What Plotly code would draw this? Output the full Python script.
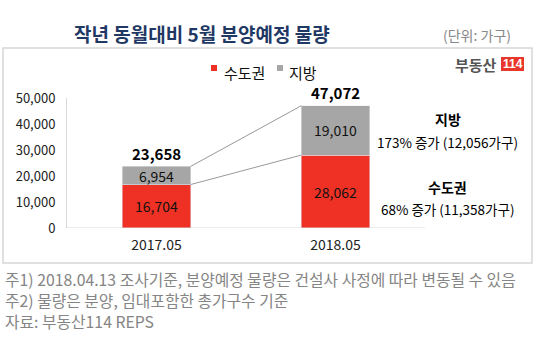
import plotly.graph_objects as go

categories = ["2017.05", "2018.05"]
metro = [16704, 28062]
local = [6954, 19010]
series_names = ["수도권", "지방"]
notes_right = [("지방", "173% 증가 (12,056가구)"), ("수도권", "68% 증가 (11,358가구)")]
footnotes = [
    "주1) 2018.04.13 조사기준, 분양예정 물량은 건설사 사정에 따라 변동될 수 있음",
    "주2) 물량은 분양, 임대포함한 총가구수 기준",
    "자료: 부동산114 REPS",
]
title = "작년 동월대비 5월 분양예정 물량"
unit = "(단위: 가구)"

RED = "#EE3124"
GRAY = "#A6A6A6"
FONT = "Noto Sans CJK KR"
W, H = 537, 349
L, R, T, B = 67, 112, 98, 121
pw, ph = W - L - R, H - T - B

def px(x):
    return (x - L) / pw

def py(y):
    return (H - B - y) / ph

bw = 0.38
xs = list(range(len(categories)))
colors = [RED, GRAY]

fig = go.Figure()
for name, vals, col in zip(series_names, [metro, local], colors):
    fig.add_bar(x=xs, y=vals, name=name, marker_color=col, width=bw,
                text=[f"{v:,}" for v in vals], textposition="inside", insidetextanchor="middle",
                constraintext="none", textfont=dict(size=14, color="#111"), cliponaxis=False,
                showlegend=False)

totals = [a + b for a, b in zip(metro, local)]
ann = []
for i, t in enumerate(totals):
    ann.append(dict(x=i, y=t, xref="x", yref="y", text=f"<b>{t:,}</b>", showarrow=False,
                    yshift=13, font=dict(size=15, color="#000")))

shapes = []
# connectors
for series in (totals, metro):
    shapes.append(dict(type="line", xref="x", yref="y",
                       x0=xs[0] + bw / 2, y0=series[0], x1=xs[1] - bw / 2, y1=series[1],
                       line=dict(color="#999", width=1)))

# outer box
shapes.append(dict(type="rect", xref="paper", yref="paper", x0=px(3), x1=px(532), y0=py(48), y1=py(263),
                   line=dict(color="#d6d6d6", width=1.5), layer="below"))
# x axis baseline extension
shapes.append(dict(type="line", xref="paper", yref="y", x0=0, x1=1, y0=0, y1=0,
                   line=dict(color="#d9d9d9", width=1)))

# custom legend
leg_sq = [211, 277]
leg_tx = [222, 287]
for name, col, sx, tx in zip(series_names, colors, leg_sq, leg_tx):
    shapes.append(dict(type="rect", xref="paper", yref="paper", x0=px(sx), x1=px(sx + 6),
                       y0=py(65), y1=py(71), fillcolor=col, line=dict(width=0)))
    ann.append(dict(x=px(tx), y=py(72), xref="paper", yref="paper", xanchor="left", yanchor="middle",
                    text=name, showarrow=False, font=dict(size=15, color="#111")))

# logo
shapes.append(dict(type="rect", xref="paper", yref="paper", x0=px(501), x1=px(524), y0=py(57), y1=py(71),
                   fillcolor="#E8362A", line=dict(width=0)))
ann.append(dict(x=px(499), y=py(64), xref="paper", yref="paper", xanchor="right", yanchor="middle",
                text="<b>부동산</b>", showarrow=False, font=dict(size=15, color="#555", family=FONT)))
ann.append(dict(x=px(512.5), y=py(64), xref="paper", yref="paper", xanchor="center", yanchor="middle",
                text="<b>114</b>", showarrow=False,
                font=dict(size=12, color="#fff", family="Liberation Sans Narrow, Liberation Sans")))

# right notes
ys_right = [(119, 142), (187, 209)]
for (h, s), (y1, y2) in zip(notes_right, ys_right):
    ann.append(dict(x=px(448), y=py(y1), xref="paper", yref="paper", text=f"<b>{h}</b>", showarrow=False,
                    font=dict(size=14, color="#000"), yanchor="middle", xanchor="center"))
    ann.append(dict(x=px(448), y=py(y2), xref="paper", yref="paper", text=s, showarrow=False,
                    font=dict(size=13.5, color="#000"), yanchor="middle", xanchor="center"))

# title & unit
ann.append(dict(x=px(202), y=py(33), xref="paper", yref="paper", text=f"<b>{title}</b>", showarrow=False,
                font=dict(size=19, color="#1F3864"), yanchor="middle", xanchor="center"))
ann.append(dict(x=px(513), y=py(35), xref="paper", yref="paper", text=unit, showarrow=False,
                font=dict(size=14, color="#888"), yanchor="middle", xanchor="right"))

# footnotes
for i, f in enumerate(footnotes):
    ann.append(dict(x=px(3), y=py(279 + 21 * i), xref="paper", yref="paper", text=f, showarrow=False,
                    font=dict(size=15.8, color="#858585"), yanchor="middle", xanchor="left"))

fig.update_layout(
    width=W, height=H, margin=dict(l=L, r=R, t=T, b=B),
    barmode="stack", plot_bgcolor="white", paper_bgcolor="white",
    font=dict(family=FONT, size=12, color="#222"),
    showlegend=False,
    annotations=ann, shapes=shapes,
    xaxis=dict(tickmode="array", tickvals=xs, ticktext=categories, range=[-0.5, 1.5],
               showline=False, showgrid=False, ticks="", tickfont=dict(size=14, color="#222"),
               ticklabelstandoff=7),
    yaxis=dict(range=[0, 50000], dtick=10000, tickformat=",", showgrid=False, zeroline=False,
               showline=True, linecolor="#d9d9d9", ticks="", tickfont=dict(size=13, color="#222"),
               ticklabelstandoff=8),
)

fig.write_html("out.html")
